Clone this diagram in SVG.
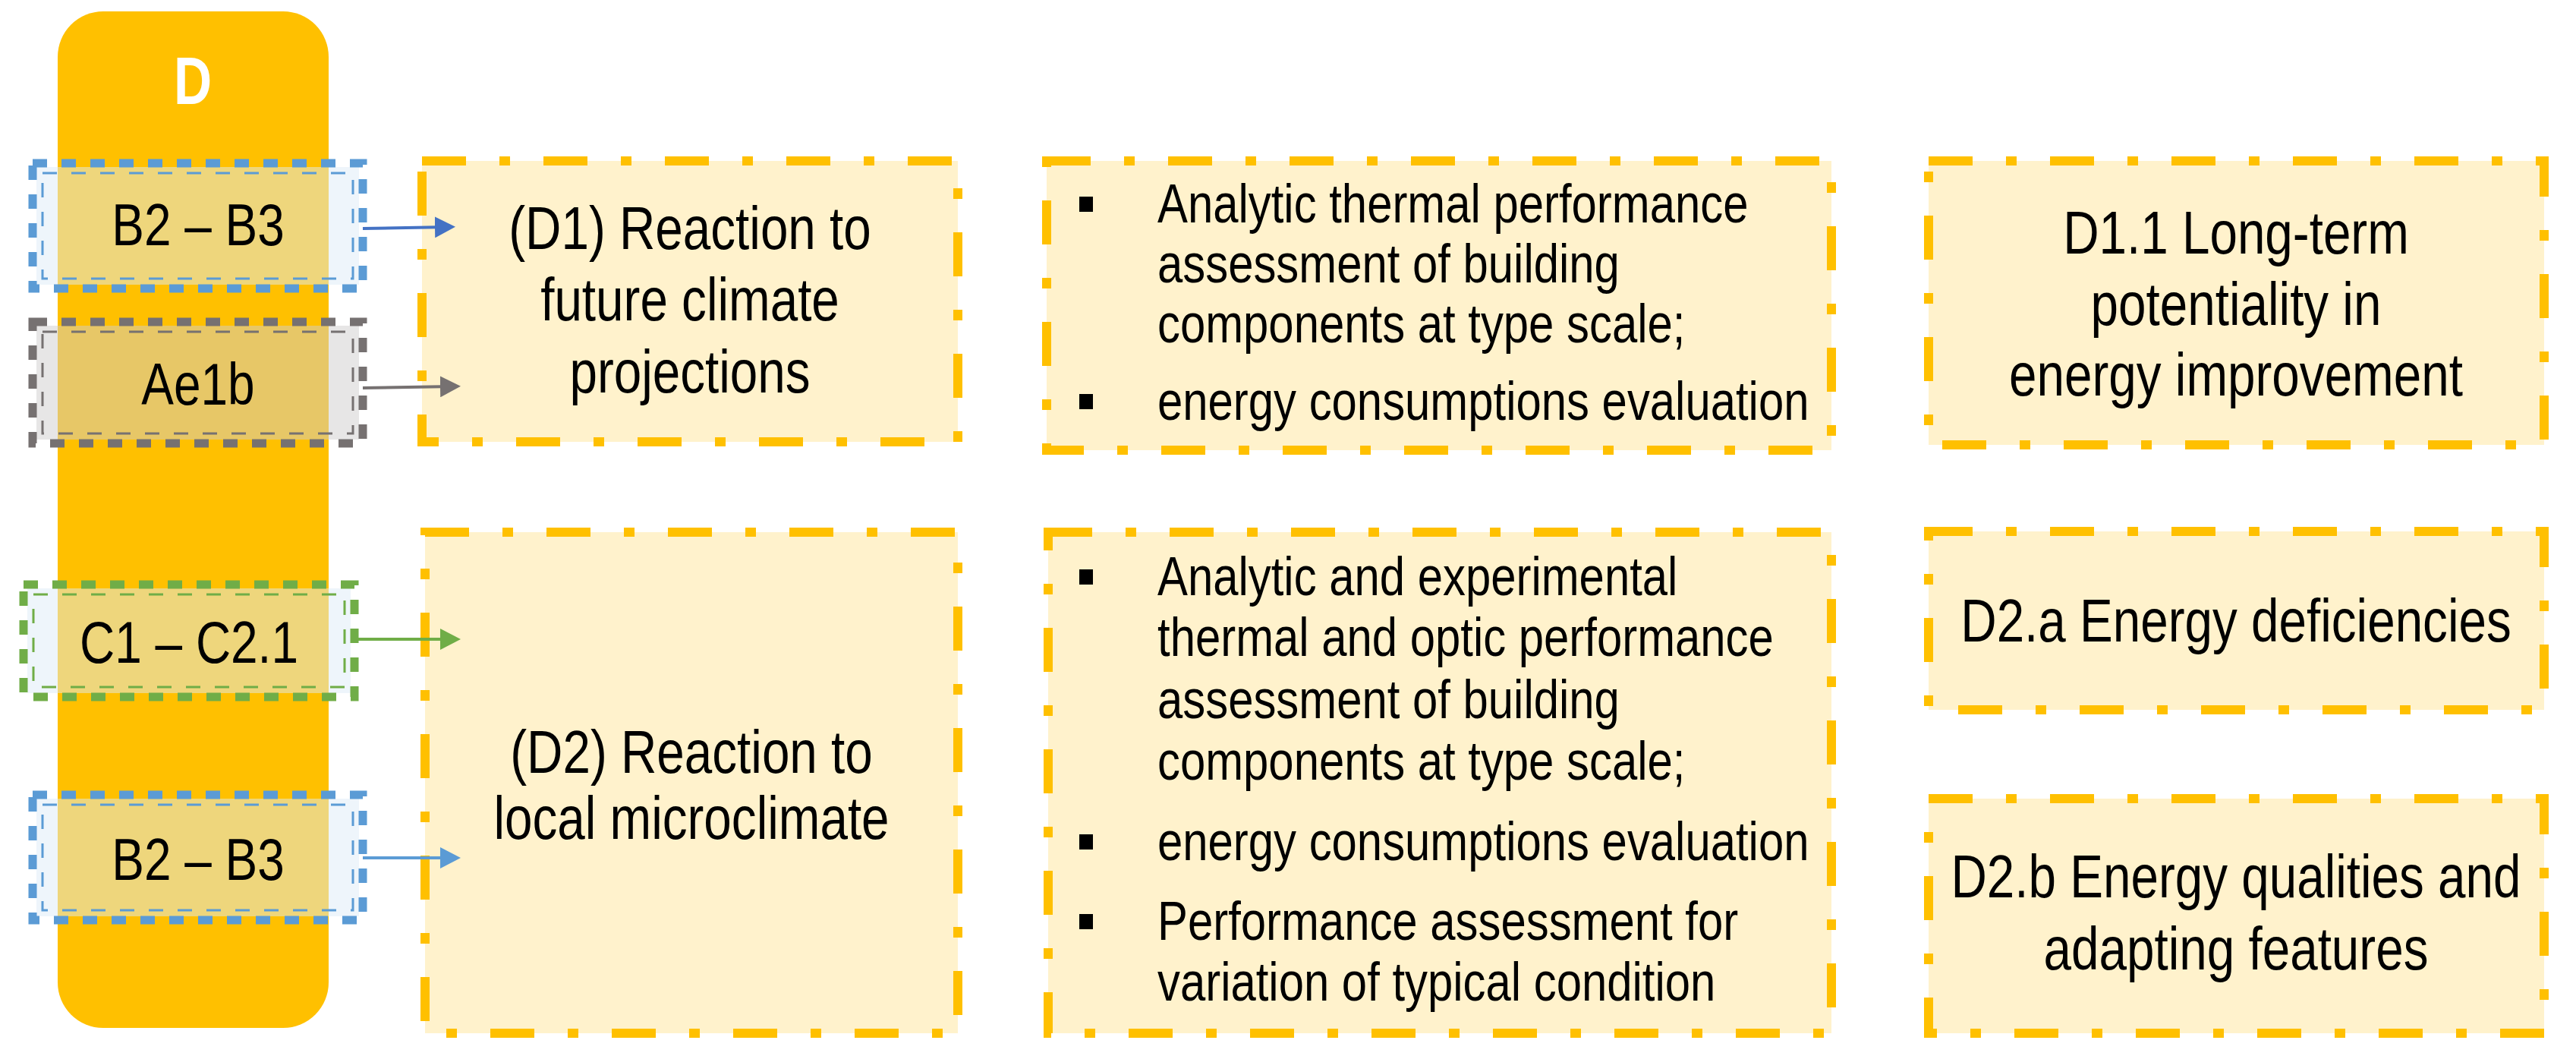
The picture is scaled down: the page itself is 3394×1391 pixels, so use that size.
<svg xmlns="http://www.w3.org/2000/svg" width="3394" height="1391" viewBox="0 0 3394 1391">
<defs>
<style>
.box{fill:#FFF2CC;stroke:#FFC000;stroke-width:12;stroke-dasharray:58 44 14 44;}
.t{font-family:"Liberation Sans",Arial,sans-serif;fill:#000;}
.lbl{font-size:80px;text-anchor:middle;}
.mid{font-size:73px;}
.sm{font-size:78px;text-anchor:middle;}
.thick{fill:none;stroke-width:11;stroke-dasharray:19 19;}
.thin{fill:none;stroke-width:3;stroke-dasharray:19 19;}
.conn{fill:none;stroke-width:4;}
.blue{stroke:#5B9BD5;}
.gray{stroke:#767171;}
.green{stroke:#70AD47;}
</style>
<marker id="ah1" markerUnits="userSpaceOnUse" markerWidth="28" markerHeight="28" refX="17" refY="14" orient="auto" viewBox="0 0 28 28"><path d="M0,0 L27,14 L0,28 Z" fill="#4472C4"/></marker>
<marker id="ah2" markerUnits="userSpaceOnUse" markerWidth="28" markerHeight="28" refX="17" refY="14" orient="auto" viewBox="0 0 28 28"><path d="M0,0 L27,14 L0,28 Z" fill="#767171"/></marker>
<marker id="ah3" markerUnits="userSpaceOnUse" markerWidth="28" markerHeight="28" refX="17" refY="14" orient="auto" viewBox="0 0 28 28"><path d="M0,0 L27,14 L0,28 Z" fill="#70AD47"/></marker>
<marker id="ah4" markerUnits="userSpaceOnUse" markerWidth="28" markerHeight="28" refX="17" refY="14" orient="auto" viewBox="0 0 28 28"><path d="M0,0 L27,14 L0,28 Z" fill="#5B9BD5"/></marker>
</defs>
<rect width="3394" height="1391" fill="#FFFFFF"/>

<g id="column-D">
<rect x="76" y="15" width="357" height="1339" rx="60" ry="60" fill="#FFC000"/>
<text class="t" transform="translate(254,137) scale(0.78,1)" x="0" y="0" font-size="89" font-weight="bold" text-anchor="middle" style="fill:#FFFFFF">D</text>
</g>

<g id="src-b2b3-top">
<rect x="48" y="220" width="425" height="155" fill="#DEEBF7" fill-opacity="0.5"/>
<rect class="thick blue" x="43" y="215" width="435" height="165"/>
<rect class="thin blue" x="56" y="228" width="409" height="139"/>
<g transform="translate(261,0) scale(0.82,1)"><text class="t sm" x="0" y="323">B2 – B3</text></g>
</g>

<g id="src-ae1b">
<rect x="48" y="429" width="425" height="150" fill="#D0CECE" fill-opacity="0.5"/>
<rect class="thick gray" x="43" y="424" width="435" height="160"/>
<rect class="thin gray" x="56" y="437" width="409" height="134"/>
<g transform="translate(261,0) scale(0.82,1)"><text class="t sm" x="0" y="533">Ae1b</text></g>
</g>

<g id="src-c1c21">
<rect x="36" y="775" width="426" height="138" fill="#DEEBF7" fill-opacity="0.5"/>
<rect class="thick green" x="31" y="770" width="436" height="148"/>
<rect class="thin green" x="44" y="783" width="410" height="122"/>
<g transform="translate(249,0) scale(0.82,1)"><text class="t sm" x="0" y="873">C1 – C2.1</text></g>
</g>

<g id="src-b2b3-bottom">
<rect x="48" y="1052" width="425" height="155" fill="#DEEBF7" fill-opacity="0.5"/>
<rect class="thick blue" x="43" y="1047" width="435" height="165"/>
<rect class="thin blue" x="56" y="1060" width="409" height="139"/>
<g transform="translate(261,0) scale(0.82,1)"><text class="t sm" x="0" y="1159">B2 – B3</text></g>
</g>

<g id="d1">
<rect class="box" x="556" y="212" width="706" height="370"/>
<g transform="translate(909,0) scale(0.82,1)">
<text class="t lbl" x="0" y="328">(D1) Reaction to</text>
<text class="t lbl" x="0" y="422">future climate</text>
<text class="t lbl" x="0" y="517">projections</text>
</g>
</g>

<g id="d2">
<rect class="box" x="560" y="701" width="702" height="660"/>
<g transform="translate(911,0) scale(0.82,1)">
<text class="t lbl" x="0" y="1018">(D2) Reaction to</text>
<text class="t lbl" x="0" y="1105">local microclimate</text>
</g>
</g>

<g id="methods-d1">
<rect class="box" x="1379" y="212" width="1034" height="381"/>
<rect x="1422" y="259" width="18" height="20" fill="#000"/>
<rect x="1422" y="519" width="18" height="20" fill="#000"/>
<g transform="translate(1525,0) scale(0.82,1)">
<text class="t mid" x="0" y="293">Analytic thermal performance</text>
<text class="t mid" x="0" y="372">assessment of building</text>
<text class="t mid" x="0" y="451">components at type scale;</text>
<text class="t mid" x="0" y="553">energy consumptions evaluation</text>
</g>
</g>

<g id="methods-d2">
<rect class="box" x="1381" y="701" width="1032" height="660"/>
<rect x="1422" y="750" width="18" height="20" fill="#000"/>
<rect x="1422" y="1099" width="18" height="20" fill="#000"/>
<rect x="1422" y="1204" width="18" height="20" fill="#000"/>
<g transform="translate(1525,0) scale(0.82,1)">
<text class="t mid" x="0" y="784">Analytic and experimental</text>
<text class="t mid" x="0" y="864">thermal and optic performance</text>
<text class="t mid" x="0" y="946">assessment of building</text>
<text class="t mid" x="0" y="1027">components at type scale;</text>
<text class="t mid" x="0" y="1133">energy consumptions evaluation</text>
<text class="t mid" x="0" y="1238">Performance assessment for</text>
<text class="t mid" x="0" y="1318">variation of typical condition</text>
</g>
</g>

<g id="d1-1">
<rect class="box" x="2541" y="212" width="811" height="374"/>
<g transform="translate(2946,0) scale(0.82,1)">
<text class="t lbl" x="0" y="334">D1.1 Long-term</text>
<text class="t lbl" x="0" y="428">potentiality in</text>
<text class="t lbl" x="0" y="521">energy improvement</text>
</g>
</g>

<g id="d2-a">
<rect class="box" x="2541" y="700" width="811" height="235"/>
<g transform="translate(2946,0) scale(0.82,1)">
<text class="t lbl" x="0" y="845">D2.a Energy deficiencies</text>
</g>
</g>

<g id="d2-b">
<rect class="box" x="2541" y="1052" width="811" height="309"/>
<g transform="translate(2946,0) scale(0.82,1)">
<text class="t lbl" x="0" y="1182">D2.b Energy qualities and</text>
<text class="t lbl" x="0" y="1277">adapting features</text>
</g>
</g>

<g id="connectors">
<line class="conn" x1="478" y1="301" x2="590" y2="299" stroke="#4472C4" marker-end="url(#ah1)"/>
<line class="conn" x1="478" y1="511" x2="597" y2="509" stroke="#767171" marker-end="url(#ah2)"/>
<line class="conn" x1="467" y1="842" x2="597" y2="842" stroke="#70AD47" marker-end="url(#ah3)"/>
<line class="conn" x1="478" y1="1130" x2="597" y2="1130" stroke="#5B9BD5" marker-end="url(#ah4)"/>
</g>
</svg>
